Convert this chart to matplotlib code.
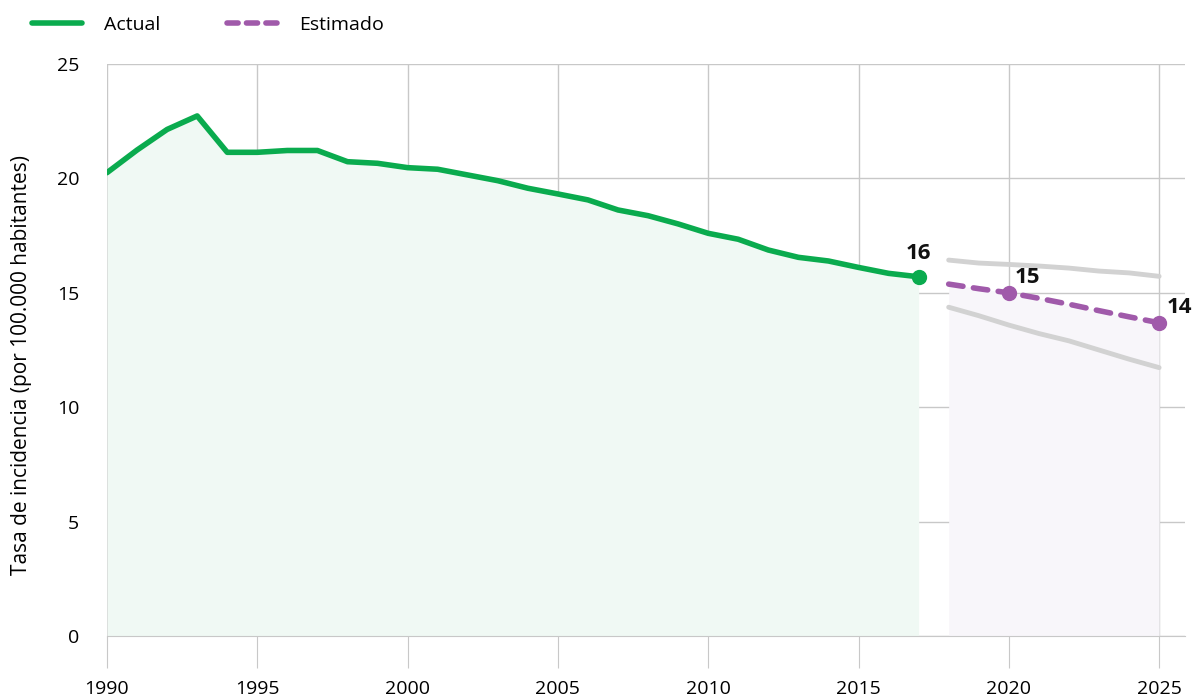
import matplotlib.pyplot as plt
from matplotlib.lines import Line2D

plt.rcParams['font.family'] = ['Open Sans', 'DejaVu Sans']

years_actual = list(range(1990, 2018))
actual = [20.25, 21.24, 22.14, 22.73, 21.14, 21.14, 21.22, 21.22, 20.73, 20.66,
          20.47, 20.40, 20.15, 19.90, 19.57, 19.32, 19.06, 18.62, 18.37, 18.01,
          17.60, 17.34, 16.87, 16.55, 16.39, 16.11, 15.85, 15.70]

years_est = list(range(2018, 2026))
estimated = [15.38, 15.18, 15.00, 14.76, 14.50, 14.22, 13.95, 13.69]
upper = [16.43, 16.30, 16.24, 16.17, 16.08, 15.95, 15.87, 15.72]
lower = [14.37, 14.00, 13.59, 13.22, 12.90, 12.50, 12.10, 11.73]

green = '#0aab4e'
purple = '#a05aaa'
grey = '#d2d2d2'

fig = plt.figure(figsize=(11.95, 7), dpi=100)
ax = fig.add_axes([107 / 1195, 1 - 636 / 700, 1078 / 1195, 572 / 700])

ax.fill_between(years_actual, 0, actual, color='#f0f9f4', zorder=1, linewidth=0)
ax.fill_between(years_est, 0, estimated, color='#f8f6fa', zorder=1, linewidth=0)

ax.plot(years_est, upper, color=grey, lw=3.5, zorder=3, solid_capstyle='round')
ax.plot(years_est, lower, color=grey, lw=3.5, zorder=3, solid_capstyle='round')
ax.plot(years_actual, actual, color=green, lw=4, zorder=4, solid_capstyle='round')
ax.plot(years_est, estimated, color=purple, lw=4, ls=(0, (2.6, 1.9)), zorder=4,
        dash_capstyle='round')

ax.plot([years_actual[-1]], [actual[-1]], 'o', color=green, ms=10, zorder=5)
ax.plot([2020, 2025], [estimated[2], estimated[-1]], 'o', color=purple, ms=10, zorder=5)

ax.text(2017, actual[-1] + 0.55, '16', ha='center', va='bottom', fontsize=16,
        fontweight='bold', color='#111111')
ax.text(2020.2, estimated[2] + 0.2, '15', ha='left', va='bottom', fontsize=16,
        fontweight='bold', color='#111111')
ax.text(2025.25, estimated[-1] + 0.2, '14', ha='left', va='bottom', fontsize=16,
        fontweight='bold', color='#111111')

ax.set_xlim(1990, 1990 + 1078 / 30.06)
ax.set_ylim(0, 25)
ax.set_xticks(range(1990, 2026, 5))
ax.set_yticks(range(0, 26, 5))
ax.grid(True, color='#c8c8c8', lw=1, zorder=0)
ax.set_axisbelow(True)
for s in ['top', 'right', 'left']:
    ax.spines[s].set_visible(False)
ax.spines['bottom'].set_color('#c8c8c8')
ax.tick_params(axis='x', length=23, color='#c8c8c8', labelsize=14, pad=9)
ax.tick_params(axis='y', length=0, labelsize=14, pad=20)
ax.set_ylabel('Tasa de incidencia (por 100.000 habitantes)', fontsize=15)
ax.yaxis.set_label_coords(-75 / 1078, 0.474)

handles = [Line2D([], [], color=green, lw=4, solid_capstyle='round'),
           Line2D([], [], color=purple, lw=4, ls=(0, (2.0, 1.5)), dash_capstyle='round')]
fig.legend(handles, ['Actual', 'Estimado'], loc='upper left', bbox_to_anchor=(0.012, 1.002),
           ncol=2, frameon=False, fontsize=14, handlelength=2.6, handletextpad=1.1,
           columnspacing=3.45)

fig.savefig('out.png', dpi=100)
